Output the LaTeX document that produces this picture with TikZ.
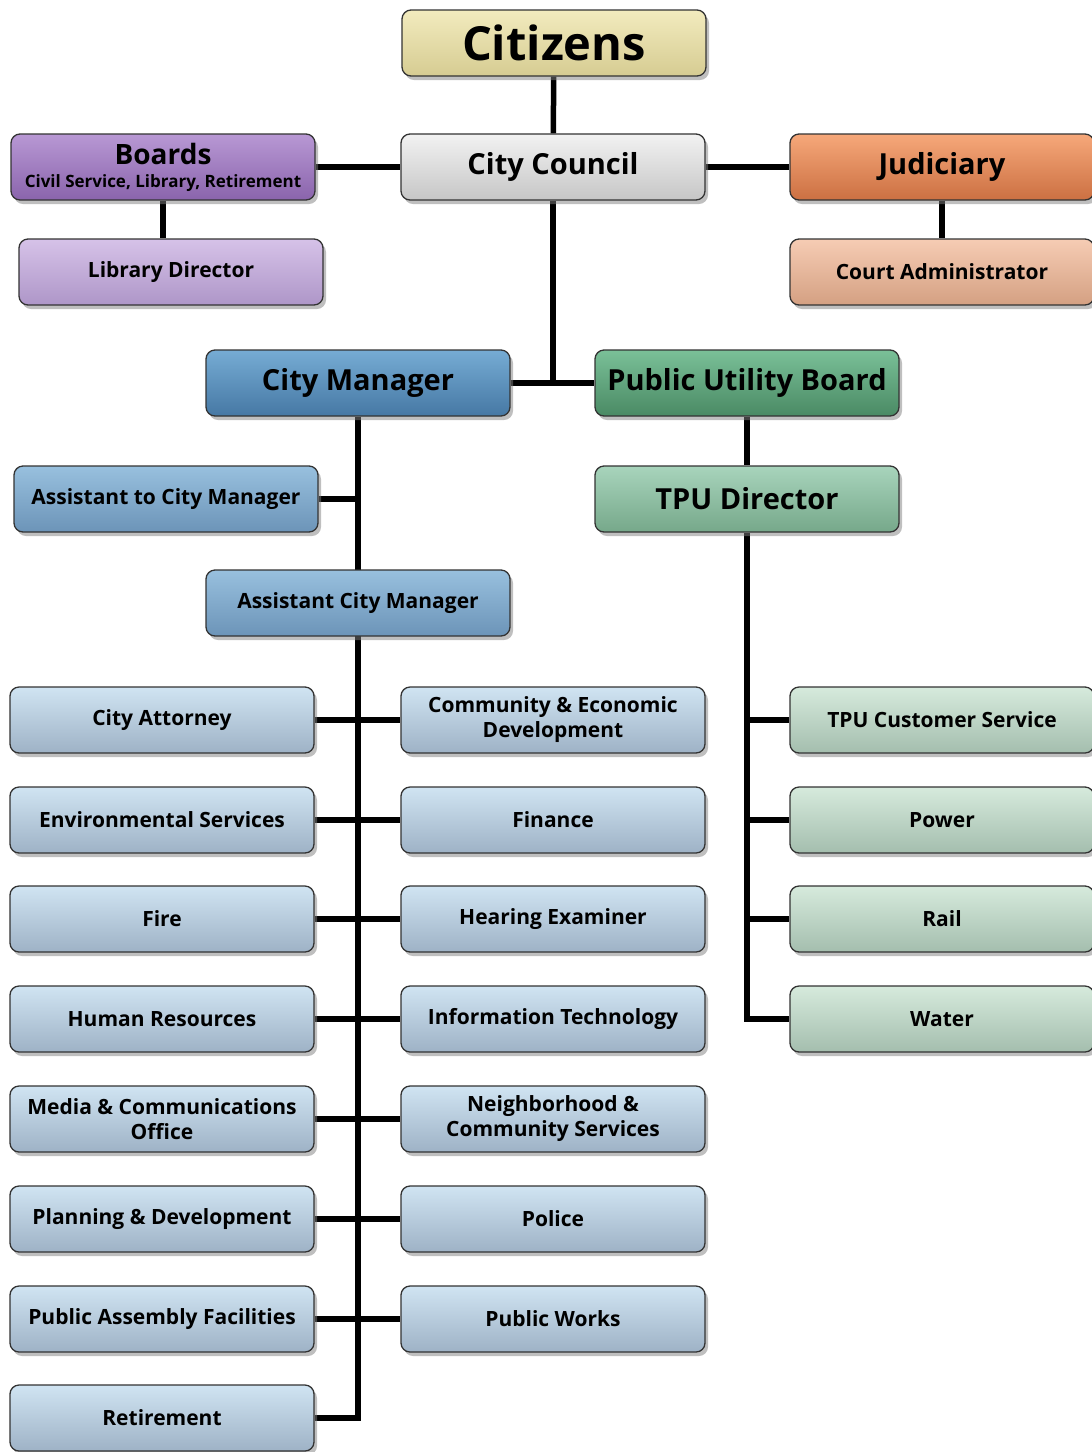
\documentclass[tikz,border=0pt]{standalone}
\usepackage{fontspec}
\setmainfont{Open Sans}
\usetikzlibrary{shadows,backgrounds}

\definecolor{citTop}{RGB}{242,235,190}
\definecolor{citBot}{RGB}{214,204,146}
\definecolor{ccTop}{RGB}{242,242,242}
\definecolor{ccBot}{RGB}{198,198,198}
\definecolor{brdTop}{RGB}{184,152,212}
\definecolor{brdBot}{RGB}{138,100,172}
\definecolor{libTop}{RGB}{214,194,232}
\definecolor{libBot}{RGB}{174,150,200}
\definecolor{judTop}{RGB}{246,168,122}
\definecolor{judBot}{RGB}{204,112,66}
\definecolor{crtTop}{RGB}{246,204,180}
\definecolor{crtBot}{RGB}{212,160,130}
\definecolor{cmTop}{RGB}{118,172,212}
\definecolor{cmBot}{RGB}{70,120,164}
\definecolor{pubTop}{RGB}{122,192,152}
\definecolor{pubBot}{RGB}{74,138,100}
\definecolor{astTop}{RGB}{152,192,222}
\definecolor{astBot}{RGB}{108,148,184}
\definecolor{tpuTop}{RGB}{168,212,188}
\definecolor{tpuBot}{RGB}{118,168,138}
\definecolor{depTop}{RGB}{208,228,242}
\definecolor{depBot}{RGB}{158,178,198}
\definecolor{utlTop}{RGB}{214,234,220}
\definecolor{utlBot}{RGB}{164,190,174}

\tikzset{
  unit/.style={rounded corners=9pt, draw=black!80, line width=1.3pt,
    minimum width=304pt, minimum height=66pt, inner sep=0pt, align=center,
    font=\bfseries\fontsize{21}{25}\selectfont,
    drop shadow={shadow xshift=3pt, shadow yshift=-4pt, opacity=0.5}},
  big/.style={font=\bfseries\fontsize{29}{33}\selectfont},
  link/.style={line width=5.5pt, black}
}

\begin{document}
\begin{tikzpicture}[x=1pt, y=-1pt]
  \clip (0,0) rectangle (1092,1452);
  \node (citizens) at (554, 43) [unit, top color=citTop, bottom color=citBot,
    font=\bfseries\fontsize{47}{50}\selectfont] {Citizens};
  \node (council) at (553, 167) [unit, big, top color=ccTop, bottom color=ccBot] {City Council};
  \node (boards) at (163, 167) [unit, top color=brdTop, bottom color=brdBot]
    {{\fontsize{28}{28}\selectfont Boards}\\[-2pt]{\fontsize{17}{19}\selectfont Civil Service, Library, Retirement}};
  \node (libdir) at (171, 272) [unit, top color=libTop, bottom color=libBot] {Library Director};
  \node (judiciary) at (942, 167) [unit, big, top color=judTop, bottom color=judBot] {Judiciary};
  \node (courtadm) at (942, 272) [unit, top color=crtTop, bottom color=crtBot] {Court Administrator};
  \node (citymgr) at (358, 383) [unit, big, top color=cmTop, bottom color=cmBot] {City Manager};
  \node (pub) at (747, 383) [unit, big, top color=pubTop, bottom color=pubBot] {Public Utility Board};
  \node (asstto) at (166, 499) [unit, top color=astTop, bottom color=astBot] {Assistant to City Manager};
  \node (tpudir) at (747, 499) [unit, big, top color=tpuTop, bottom color=tpuBot] {TPU Director};
  \node (asstcm) at (358, 603) [unit, top color=astTop, bottom color=astBot] {Assistant City Manager};

  \tikzset{dept/.style={unit, top color=depTop, bottom color=depBot},
    util/.style={unit, top color=utlTop, bottom color=utlBot}}
  \node (attorney) at (162, 720) [dept] {City Attorney};
  \node (environ) at (162, 820) [dept] {Environmental Services};
  \node (fire) at (162, 919) [dept] {Fire};
  \node (hr) at (162, 1019) [dept] {Human Resources};
  \node (media) at (162, 1119) [dept] {Media \& Communications\\Office};
  \node (planning) at (162, 1219) [dept] {Planning \& Development};
  \node (assembly) at (162, 1319) [dept] {Public Assembly Facilities};
  \node (retire) at (162, 1418) [dept] {Retirement};
  \node (econ) at (553, 720) [dept] {Community \& Economic\\Development};
  \node (finance) at (553, 820) [dept] {Finance};
  \node (hearing) at (553, 919) [dept] {Hearing Examiner};
  \node (infotech) at (553, 1019) [dept] {Information Technology};
  \node (neighbor) at (553, 1119) [dept] {Neighborhood \&\\Community Services};
  \node (police) at (553, 1219) [dept] {Police};
  \node (works) at (553, 1319) [dept] {Public Works};
  \node (custsvc) at (942, 720) [util] {TPU Customer Service};
  \node (power) at (942, 820) [util] {Power};
  \node (rail) at (942, 919) [util] {Rail};
  \node (water) at (942, 1019) [util] {Water};

  \begin{scope}[on background layer]
    \draw [link] (citizens) to (council);
    \draw [link] (boards) to (council);
    \draw [link] (council) to (judiciary);
    \draw [link] (boards.south) to (boards.south |- libdir.north);
    \draw [link] (judiciary) to (courtadm);
    \draw [link] (council.south) to (council.south |- citymgr.east);
    \draw [link] (citymgr) to (pub);
    \draw [link] (pub) to (tpudir);
    \draw [link] (citymgr.south) |- (retire.east);
    \draw [link] (asstto.east) to (asstto.east -| citymgr.south);
    \draw [link] (tpudir.south) |- (water.west);
    \foreach \l/\r in {attorney/econ, environ/finance, fire/hearing, hr/infotech,
        media/neighbor, planning/police, assembly/works}
      \draw [link] (\l) to (\r);
    \foreach \u in {custsvc, power, rail}
      \draw [link] (tpudir.south |- \u.west) to (\u.west);
  \end{scope}
\end{tikzpicture}
\end{document}
